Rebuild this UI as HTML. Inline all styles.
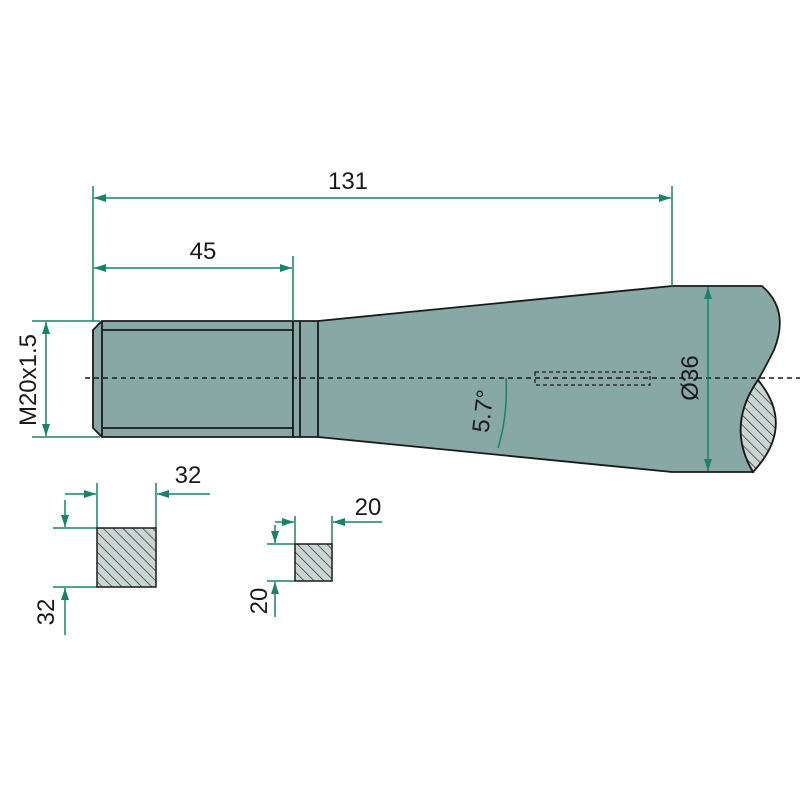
<!DOCTYPE html>
<html><head><style>html,body{margin:0;padding:0;background:#fff}svg{display:block}</style></head><body>
<svg width="800" height="800" viewBox="0 0 800 800" xmlns="http://www.w3.org/2000/svg" font-family="Liberation Sans, sans-serif">
<defs>
<marker id="a" viewBox="0 0 12 8" refX="12" refY="4" markerWidth="13" markerHeight="8" orient="auto-start-reverse" markerUnits="userSpaceOnUse"><path d="M0,0 L12,4 L0,8 z" fill="#17846a"/></marker>
<pattern id="h" width="7" height="7" patternUnits="userSpaceOnUse" patternTransform="rotate(-45)"><rect width="7" height="7" fill="#c9d6d4"/><line x1="0" y1="0" x2="0" y2="7" stroke="#222" stroke-width="1.3"/></pattern>
</defs>
<g stroke="#1a1a1a" stroke-width="1.8" fill="#88a8a6">
<path d="M102,321 L293,321 L293,437 L102,437 L93,428 L93,330 Z"/>
<path d="M293,321 L318,321 L672,286 L762,286 Q790,310 774,350 Q766,366 758,380 Q726,426 753,472 L672,472 L318,437 L293,437 Z"/>
<path d="M758,380 Q726,426 753,472 Q796,426 758,380 Z" fill="url(#h)"/>
<line x1="102" y1="321" x2="102" y2="437"/>
<line x1="102" y1="330" x2="293" y2="330"/>
<line x1="102" y1="428" x2="293" y2="428"/>
<line x1="300" y1="321" x2="300" y2="437"/>
<line x1="318" y1="321" x2="318" y2="437"/>
</g>
<line x1="85" y1="378" x2="800" y2="378" stroke="#1a1a1a" stroke-width="1.4" stroke-dasharray="5,4"/>
<rect x="535" y="372" width="115" height="13" fill="none" stroke="#1a1a1a" stroke-width="1.2" stroke-dasharray="4,3"/>
<g stroke="#17846a" stroke-width="1.5" fill="none">
<line x1="93" y1="186" x2="93" y2="321"/>
<line x1="672" y1="186" x2="672" y2="286"/>
<line x1="94" y1="198" x2="671" y2="198" marker-start="url(#a)" marker-end="url(#a)"/>
<line x1="293" y1="256" x2="293" y2="321"/>
<line x1="94" y1="268" x2="292" y2="268" marker-start="url(#a)" marker-end="url(#a)"/>
<line x1="32" y1="321" x2="100" y2="321"/>
<line x1="32" y1="437" x2="100" y2="437"/>
<line x1="46" y1="322" x2="46" y2="436" marker-start="url(#a)" marker-end="url(#a)"/>
<line x1="708" y1="287" x2="708" y2="471" marker-start="url(#a)" marker-end="url(#a)"/>
<path d="M506,378 Q508,415 498,448"/>
<line x1="97" y1="483" x2="97" y2="528"/>
<line x1="156" y1="483" x2="156" y2="528"/>
<line x1="65" y1="494" x2="96" y2="494" marker-end="url(#a)"/>
<line x1="210" y1="494" x2="157" y2="494" marker-end="url(#a)"/>
<line x1="53" y1="528" x2="97" y2="528"/>
<line x1="53" y1="587" x2="97" y2="587"/>
<line x1="65" y1="500" x2="65" y2="527" marker-end="url(#a)"/>
<line x1="65" y1="635" x2="65" y2="588" marker-end="url(#a)"/>
<line x1="295" y1="516" x2="295" y2="544"/>
<line x1="332" y1="516" x2="332" y2="544"/>
<line x1="275" y1="522" x2="294" y2="522" marker-end="url(#a)"/>
<line x1="382" y1="522" x2="333" y2="522" marker-end="url(#a)"/>
<line x1="267" y1="544" x2="295" y2="544"/>
<line x1="267" y1="581" x2="295" y2="581"/>
<line x1="275" y1="525" x2="275" y2="543" marker-end="url(#a)"/>
<line x1="275" y1="617" x2="275" y2="582" marker-end="url(#a)"/>
</g>
<rect x="97" y="528" width="59" height="59" fill="url(#h)" stroke="#1a1a1a" stroke-width="1.5"/>
<rect x="295" y="544" width="37" height="37" fill="url(#h)" stroke="#1a1a1a" stroke-width="1.5"/>
<g fill="#1a1a1a" font-size="24">
<text x="348" y="189" text-anchor="middle">131</text>
<text x="203" y="259" text-anchor="middle">45</text>
<text x="188" y="483" text-anchor="middle">32</text>
<text x="368" y="515" text-anchor="middle">20</text>
<text transform="translate(36,380) rotate(-90)" text-anchor="middle">M20x1.5</text>
<text transform="translate(698,378) rotate(-90)" text-anchor="middle">Ø36</text>
<text transform="translate(491,412) rotate(-83)" text-anchor="middle">5.7°</text>
<text transform="translate(54,612) rotate(-90)" text-anchor="middle">32</text>
<text transform="translate(267,601) rotate(-90)" text-anchor="middle">20</text>
</g>
</svg>
</body></html>
